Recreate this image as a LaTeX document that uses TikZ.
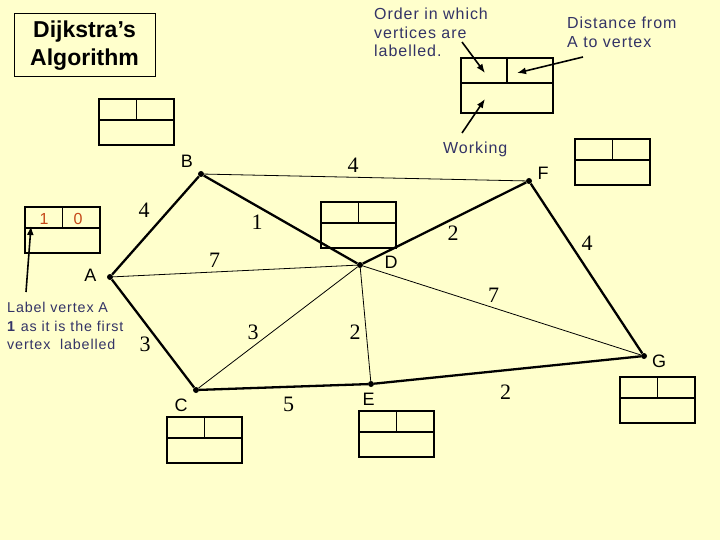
\documentclass[tikz,border=0pt]{standalone}
\usepackage{fontspec}
\setmainfont{Liberation Serif}
\setsansfont{Liberation Sans}
\newfontfamily\notefont[LetterSpace=6.0]{Liberation Sans}
\usetikzlibrary{arrows.meta}
\definecolor{paper}{RGB}{255,255,204}
\definecolor{noteblue}{RGB}{51,51,102}
\definecolor{markred}{RGB}{196,72,24}

\begin{document}
\begin{tikzpicture}[x=1pt, y=-1pt,
  vtx/.style={circle, fill, inner sep=0pt, minimum size=6pt},
  vname/.style={font=\sffamily\fontsize{18}{18}\selectfont},
  wt/.style={font=\fontsize{22}{22}\selectfont},
  heavy/.style={line width=2.3pt},
  light/.style={line width=0.8pt},
  note/.style={font=\notefont\fontsize{16}{18.5}\selectfont, text=noteblue, align=left, inner sep=0pt, anchor=north west},
  boxmark/.style={font=\notefont\fontsize{16}{16}\selectfont, text=markred},
  pointer/.style={line width=1.6pt, -{Latex[length=9pt, width=7pt]}},
  lbox/.pic={\draw[line width=1.3pt] (0,0) rectangle (75,46) (0,21) -- (75,21) (37.5,0) -- (37.5,21);},
]
  % Page
  \fill[paper] (0,0) rectangle (720,540);
  \useasboundingbox (0,0) rectangle (720,540);

  % Title
  \node[draw, line width=1pt, minimum width=141pt, minimum height=63pt, align=center,
        font=\sffamily\bfseries\fontsize{23}{27.5}\selectfont] (title) at (84.5,45.5) {Dijkstra’s\\Algorithm};

  % Vertices
  \node[vtx] (A) at (110,277) {};
  \node[vtx] (B) at (201,174) {};
  \node[vtx] (C) at (196,390) {};
  \node[vtx] (D) at (360,265) {};
  \node[vtx] (E) at (371,384) {};
  \node[vtx] (F) at (529,181) {};
  \node[vtx] (G) at (644,356) {};

  \node[vname] (labA) at (90.5,275) {A};
  \node[vname] (labB) at (187,161) {B};
  \node[vname] (labC) at (181,405) {C};
  \node[vname] (labD) at (391,262) {D};
  \node[vname] (labE) at (368.5,399) {E};
  \node[vname] (labF) at (543,173) {F};
  \node[vname] (labG) at (659,361) {G};

  % Edges
  \draw[heavy] (A) -- (B);
  \draw[heavy] (A) -- (C);
  \draw[heavy] (B) -- (D);
  \draw[heavy] (D) -- (F);
  \draw[heavy] (F) -- (G);
  \draw[heavy] (C) -- (E);
  \draw[heavy] (E) -- (G);
  \draw[light] (A) -- (D);
  \draw[light] (B) -- (F);
  \draw[light] (C) -- (D);
  \draw[light] (D) -- (E);
  \draw[light] (D) -- (G);

  % Weights
  \node[wt] (wAB) at (144,210) {4};
  \node[wt] (wBF) at (353,165) {4};
  \node[wt] (wBD) at (257,222) {1};
  \node[wt] (wAD) at (214.5,260) {7};
  \node[wt] (wDF) at (453,233.5) {2};
  \node[wt] (wFG) at (587,243) {4};
  \node[wt] (wDG) at (493.5,295.5) {7};
  \node[wt] (wAC) at (145,344.5) {3};
  \node[wt] (wCD) at (253,332.5) {3};
  \node[wt] (wDE) at (355,332.5) {2};
  \node[wt] (wCE) at (288.5,404.5) {5};
  \node[wt] (wEG) at (505.5,392.5) {2};

  % Boxes
  \pic (boxB) at (99,99) {lbox};
  \pic[xscale=1.227, yscale=1.196] (boxkey) at (461,58) {lbox};
  \pic (boxF) at (575,139) {lbox};
  \pic (boxA) at (25,207) {lbox};
  \pic (boxD) at (321,202) {lbox};
  \pic (boxC) at (167,417) {lbox};
  \pic (boxE) at (359,411) {lbox};
  \pic (boxG) at (620,377) {lbox};

  \node[boxmark] (ordA) at (44,219) {1};
  \node[boxmark] (distA) at (78,219) {0};

  % Notes
  \node[note] (ordnote) at (374,8) {Order in which\\vertices are\\labelled.};
  \node[note] (distnote) at (567,17) {Distance from\\A to vertex};
  \node[note] (worknote) at (443,142) {Working};
  \node[note, font=\notefont\fontsize{14.3}{18.5}\selectfont] (firstnote) at (7,302)
    {Label vertex A\\\textbf{1} as it is the first\\vertex\ \ labelled};

  % Pointers
  \coordinate (ordtail) at (462,42);
  \coordinate (ordtip) at (485,73);
  \coordinate (disttail) at (583,57);
  \coordinate (disttip) at (517,73);
  \coordinate (worktail) at (462,133);
  \coordinate (worktip) at (485,99);
  \coordinate (firsttail) at (26,292);
  \coordinate (firsttip) at (31,226);
  \draw[pointer] (ordtail) -- (ordtip);
  \draw[pointer] (disttail) -- (disttip);
  \draw[pointer] (worktail) -- (worktip);
  \draw[pointer] (firsttail) -- (firsttip);
\end{tikzpicture}
\end{document}
